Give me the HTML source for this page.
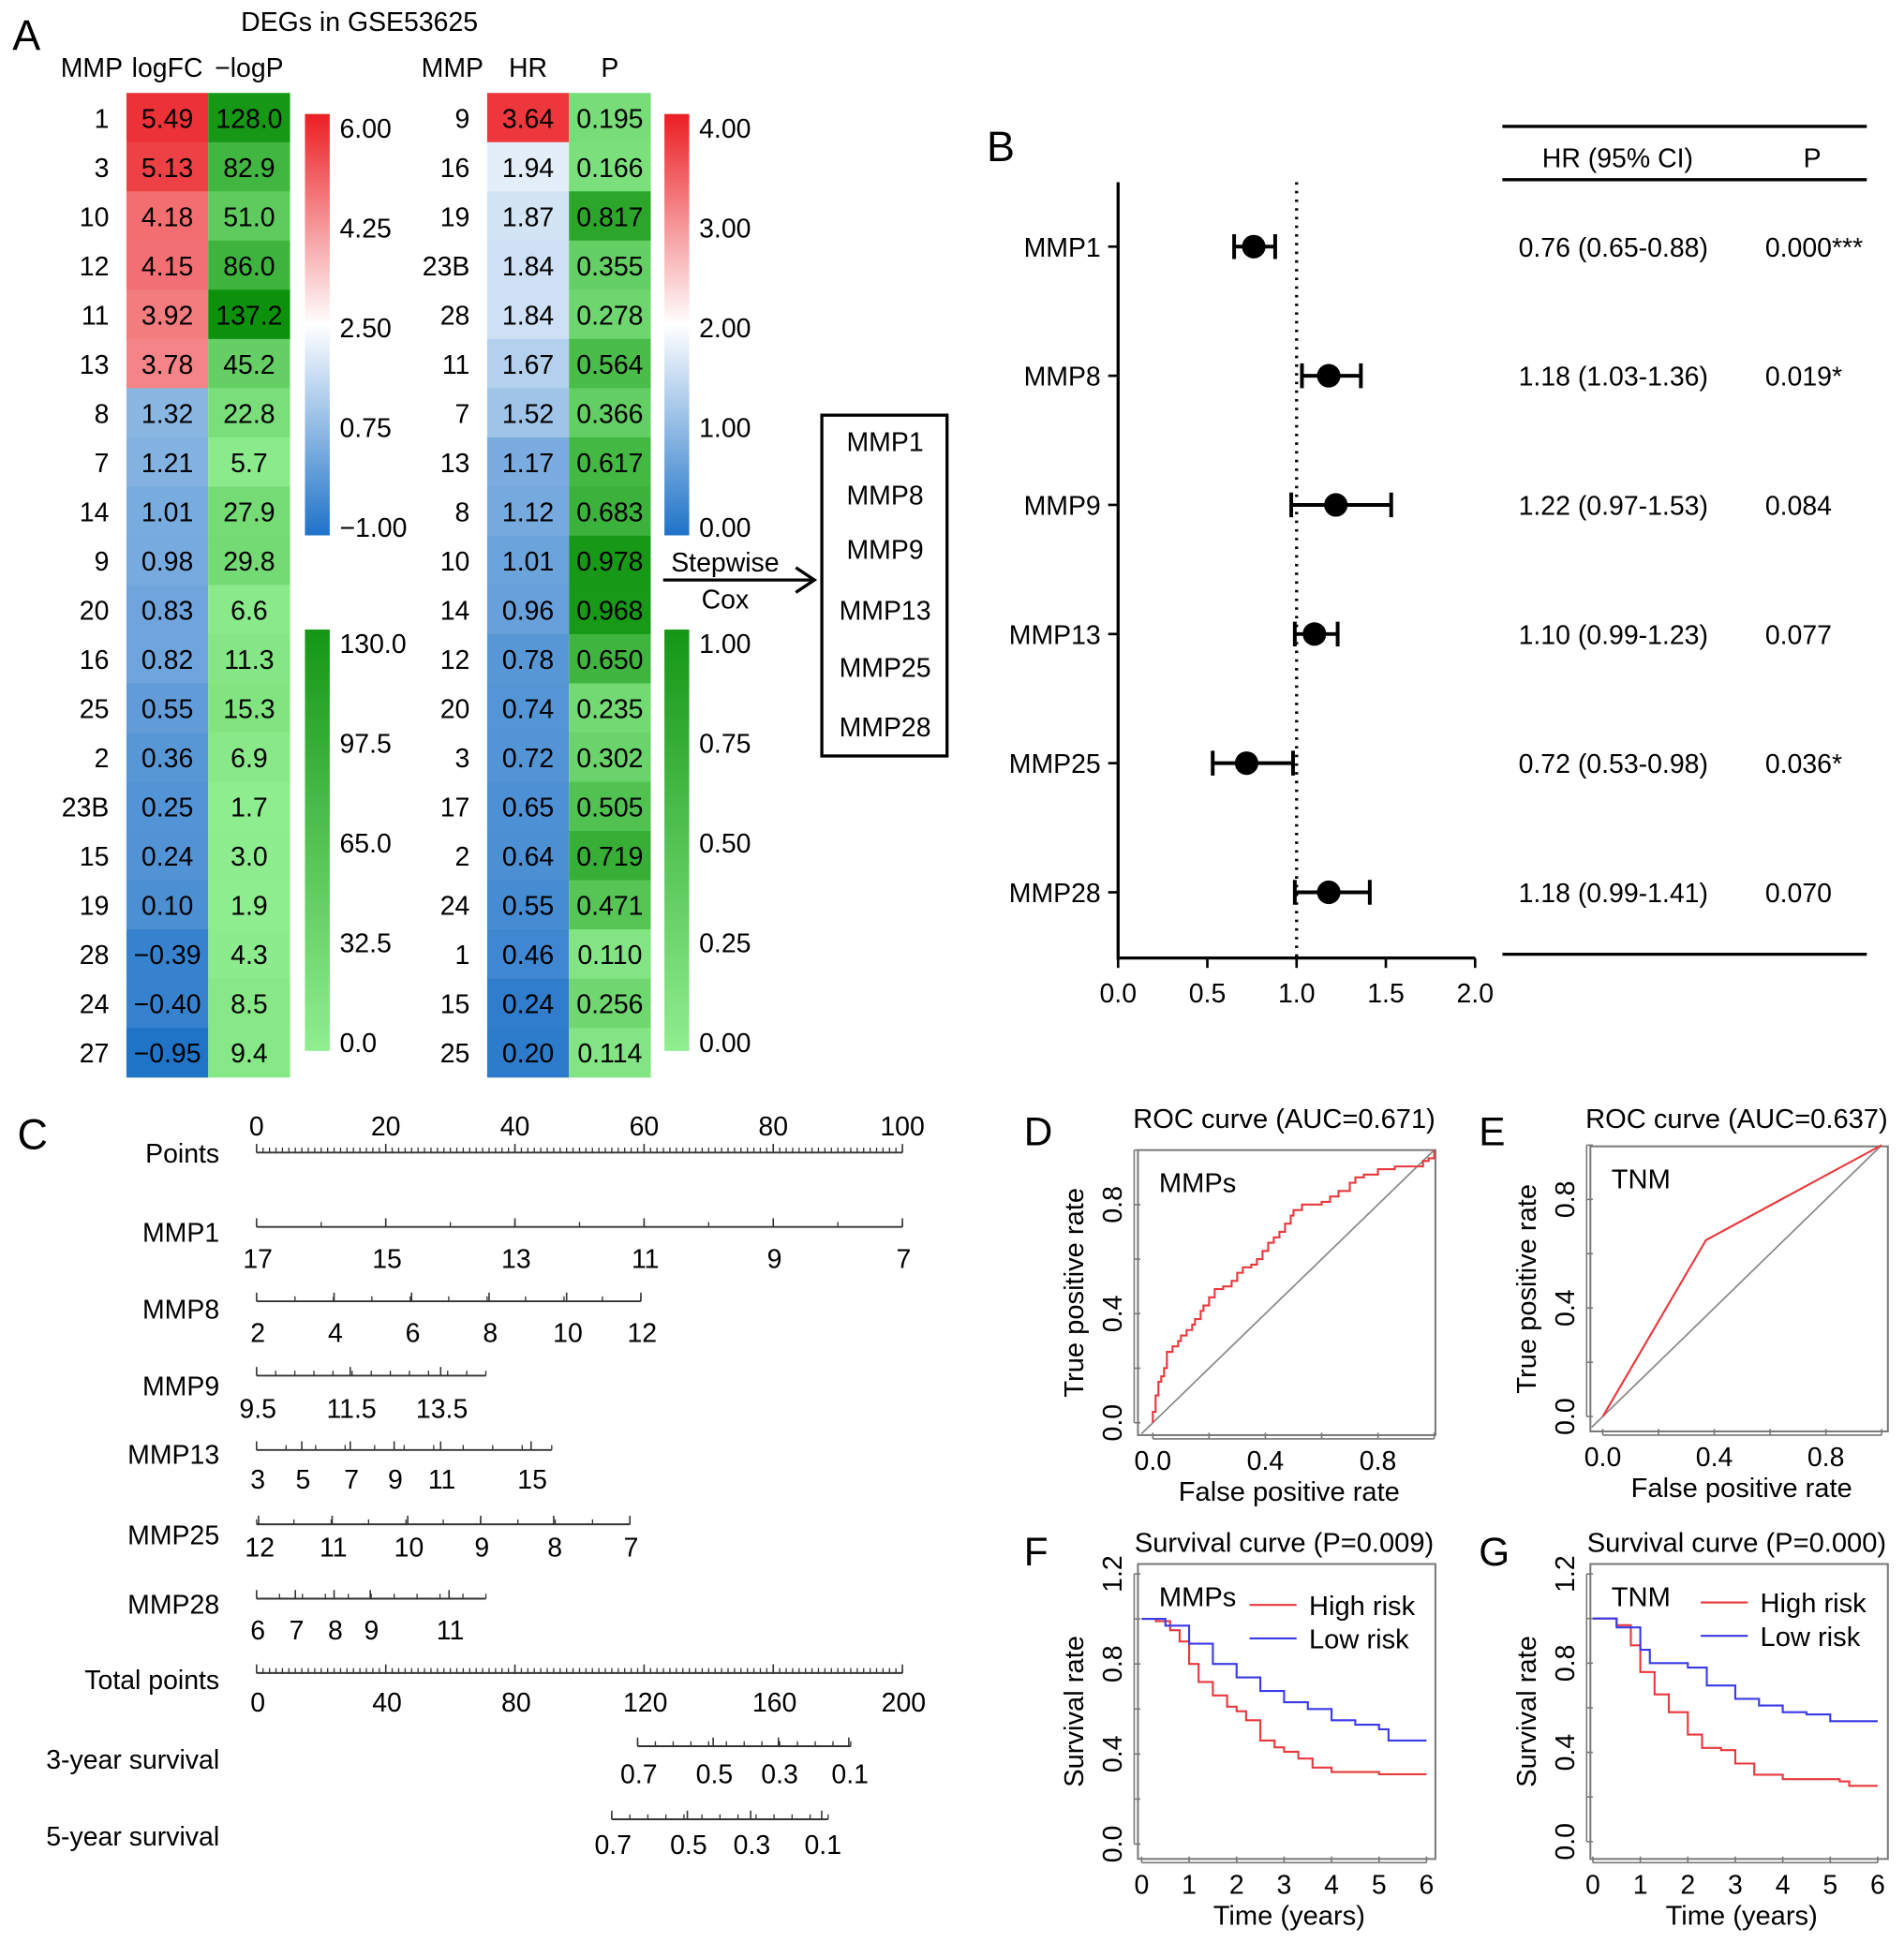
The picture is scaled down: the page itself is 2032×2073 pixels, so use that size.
<!DOCTYPE html>
<html><head><meta charset="utf-8">
<style>
html,body{margin:0;padding:0;background:#fff;}
svg{display:block;font-family:"Liberation Sans",Arial,sans-serif;}
</style></head>
<body>
<svg id="fig" xmlns="http://www.w3.org/2000/svg" width="2032" height="2073" viewBox="0 0 1536 1567">
<rect width="1536" height="1567" fill="#fff"/>
<g id="gA"></g>
<g id="gB"></g>
<g id="gC"></g>
<g id="gD"></g>
</svg>
<script>
// ---- Panel A data ----
const degMMP = ["1","3","10","12","11","13","8","7","14","9","20","16","25","2","23B","15","19","28","24","27"];
const degLogFC = [5.49,5.13,4.18,4.15,3.92,3.78,1.32,1.21,1.01,0.98,0.83,0.82,0.55,0.36,0.25,0.24,0.10,-0.39,-0.40,-0.95];
const degLogP = [128.0,82.9,51.0,86.0,137.2,45.2,22.8,5.7,27.9,29.8,6.6,11.3,15.3,6.9,1.7,3.0,1.9,4.3,8.5,9.4];
const coxMMP = ["9","16","19","23B","28","11","7","13","8","10","14","12","20","3","17","2","24","1","15","25"];
const coxHR = [3.64,1.94,1.87,1.84,1.84,1.67,1.52,1.17,1.12,1.01,0.96,0.78,0.74,0.72,0.65,0.64,0.55,0.46,0.24,0.20];
const coxP = [0.195,0.166,0.817,0.355,0.278,0.564,0.366,0.617,0.683,0.978,0.968,0.650,0.235,0.302,0.505,0.719,0.471,0.110,0.256,0.114];
const fcTicks = ["6.00","4.25","2.50","0.75","\u22121.00"];
const lpTicks = ["130.0","97.5","65.0","32.5","0.0"];
const hrTicks = ["4.00","3.00","2.00","1.00","0.00"];
const pTicks = ["1.00","0.75","0.50","0.25","0.00"];
const coxSelected = ["MMP1","MMP8","MMP9","MMP13","MMP25","MMP28"];
// ---- Panel B data ----
const forestLabels = ["MMP1","MMP8","MMP9","MMP13","MMP25","MMP28"];
const forestHR = [0.76,1.18,1.22,1.10,0.72,1.18];
const forestLo = [0.65,1.03,0.97,0.99,0.53,0.99];
const forestHi = [0.88,1.36,1.53,1.23,0.98,1.41];
const forestCI = ["0.76 (0.65-0.88)","1.18 (1.03-1.36)","1.22 (0.97-1.53)","1.10 (0.99-1.23)","0.72 (0.53-0.98)","1.18 (0.99-1.41)"];
const forestP = ["0.000***","0.019*","0.084","0.077","0.036*","0.070"];
const forestTicks = [0,0.5,1.0,1.5,2.0];
// ---- Panel C data ----
const nomoRows = ["Points","MMP1","MMP8","MMP9","MMP13","MMP25","MMP28","Total points","3-year survival","5-year survival"];
const nomoLabels = [
 ["0","20","40","60","80","100"],
 ["17","15","13","11","9","7"],
 ["2","4","6","8","10","12"],
 ["9.5","11.5","13.5"],
 ["3","5","7","9","11","15"],
 ["12","11","10","9","8","7"],
 ["6","7","8","9","11"],
 ["0","40","80","120","160","200"],
 ["0.7","0.5","0.3","0.1"],
 ["0.7","0.5","0.3","0.1"]];
const nomoPts = [
 [0,20,40,60,80,100],
 [0,20,40,60,80,100],
 [0,12,24,36,48,59.5],
 [0,14.5,28.5],
 [0,7,14.5,21.3,28.5,42.5],
 [0.3,11.7,23.4,34.7,46,57.8],
 [0,6,12,17.6,29.8],
 [0,20,40,60,80,100],
 [59,70.7,80.8,91.7],
 [55,66.7,76.5,87.5]];
const nomoEnd = [100,100,59.5,35.5,45.7,57.8,35.5,100,92,88.5];
const nomoStart = [0,0,0,0,0,0,0,0,59,55];
// ---- ROC data ----
const rocMmpFPR = [0,0,0.01,0.01,0.02,0.02,0.03,0.04,0.05,0.05,0.07,0.09,0.1,0.12,0.14,0.15,0.17,0.18,0.2,0.22,0.25,0.28,0.3,0.32,0.35,0.37,0.39,0.41,0.43,0.45,0.47,0.49,0.5,0.53,0.56,0.6,0.63,0.66,0.68,0.7,0.72,0.75,0.8,0.86,0.92,0.96,0.98,1];
const rocMmpTPR = [0,0.04,0.07,0.1,0.12,0.15,0.17,0.2,0.23,0.26,0.28,0.3,0.32,0.34,0.36,0.38,0.41,0.43,0.46,0.49,0.5,0.52,0.55,0.57,0.58,0.6,0.63,0.66,0.68,0.7,0.73,0.76,0.78,0.8,0.8,0.81,0.83,0.85,0.85,0.88,0.9,0.91,0.93,0.94,0.94,0.96,0.97,1];
const rocTnmFPR = [0,0.37,1];
const rocTnmTPR = [0,0.65,1];
// ---- Survival data ----
const fHighT = [0,0.3,0.6,0.8,1,1.2,1.5,1.8,2,2.2,2.5,2.8,3,3.3,3.6,4,4.5,5,6];
const fHighS = [1,0.99,0.95,0.9,0.8,0.72,0.66,0.61,0.59,0.55,0.46,0.43,0.41,0.38,0.34,0.32,0.32,0.31,0.31];
const fLowT = [0,0.5,1,1.5,2,2.5,3,3.5,4,4.5,5,5.2,6];
const fLowS = [1,0.97,0.89,0.8,0.74,0.68,0.63,0.6,0.55,0.53,0.51,0.46,0.46];
const gHighT = [0,0.5,0.8,1,1.3,1.6,2,2.3,2.7,3,3.4,4,5.2,5.4,6];
const gHighS = [1,0.97,0.88,0.76,0.66,0.58,0.48,0.42,0.41,0.35,0.3,0.28,0.27,0.25,0.25];
const gLowT = [0,0.5,1,1.2,2,2.4,3,3.5,4,4.5,5,6];
const gLowS = [1,0.96,0.86,0.8,0.78,0.7,0.64,0.61,0.58,0.57,0.54,0.54];

const NS="http://www.w3.org/2000/svg";
function el(parent,tag,attrs,text){const e=document.createElementNS(NS,tag);for(const k in attrs)e.setAttribute(k,attrs[k]);if(text!==undefined)e.textContent=text;parent.appendChild(e);return e;}
function lerp(a,b,t){return [0,1,2].map(i=>Math.round(a[i]+(b[i]-a[i])*t));}
function rgb(c){return "rgb("+c.join(",")+")";}
const BLUE=[30,115,200],WHITE=[255,255,255],RED=[235,30,35],LG=[144,238,144],DG=[20,150,20];
function divColor(v,lo,mid,hi){if(v>=mid){let t=Math.min(1,(v-mid)/(hi-mid));return rgb(lerp(WHITE,RED,Math.pow(t,0.6)));}let t=Math.min(1,(mid-v)/(mid-lo));return rgb(lerp(WHITE,BLUE,Math.pow(t,0.6)));}
function grnColor(v,hi){let t=Math.min(1.08,v/hi);return rgb(lerp(LG,DG,t));}

const FS=21.5;
// ===== Panel A =====
const A=document.getElementById('gA');
let t=el(A,'text',{x:10,y:40,'font-size':34});t.textContent="A";

t=el(A,'text',{x:290,y:25,'font-size':FS,'text-anchor':'middle'},"DEGs in GSE53625");

const rowY0=75,rowH=39.7;
function heat(x0,names,vals1,vals2,c1,c2,fmt1,fmt2,h1,h2,nm){
  const g=el(A,'g',{});
  
  el(g,'text',{x:x0-28,y:62,'font-size':FS,'text-anchor':'middle'},"MMP");
  el(g,'text',{x:x0+33,y:62,'font-size':FS,'text-anchor':'middle'},h1);
  el(g,'text',{x:x0+99,y:62,'font-size':FS,'text-anchor':'middle'},h2);
  names.forEach((n,i)=>{
    const y=rowY0+i*rowH;
    const lab=el(g,'text',{x:x0-14,y:y+28,'font-size':FS,'text-anchor':'end'},n);
    
    const r1=el(g,'rect',{x:x0,y:y,width:66,height:rowH+0.5,fill:c1(vals1[i])});
    
    const r2=el(g,'rect',{x:x0+66,y:y,width:66,height:rowH+0.5,fill:c2(vals2[i])});
    
    el(g,'text',{x:x0+33,y:y+28,'font-size':FS,'text-anchor':'middle'},fmt1(vals1[i]));
    el(g,'text',{x:x0+99,y:y+28,'font-size':FS,'text-anchor':'middle'},fmt2(vals2[i]));
  });
}
heat(102,degMMP,degLogFC,degLogP,v=>divColor(v,-1,2.5,6),v=>grnColor(v,130),v=>(v<0?"\u2212"+(-v).toFixed(2):v.toFixed(2)),v=>v.toFixed(1),"logFC","\u2212logP","deg-heatmap");
heat(393,coxMMP,coxHR,coxP,v=>divColor(v,0,2,4),v=>grnColor(v,1),v=>v.toFixed(2),v=>v.toFixed(3),"HR","P","cox-heatmap");
let gid=0;
function colorbar(x,y0,y1,stops,ticks,nm){
  const id='cb'+(gid++);
  const d=el(A,'defs',{});const lg=el(d,'linearGradient',{id:id,x1:0,y1:0,x2:0,y2:1});
  stops.forEach((c,i)=>el(lg,'stop',{offset:i/(stops.length-1),'stop-color':c}));
  const r=el(A,'rect',{x:x,y:y0,width:20,height:y1-y0,fill:'url(#'+id+')'});
  
  ticks.forEach((s,i)=>{el(A,'text',{x:x+28,y:y0+19+i*(y1-y0-18)/(ticks.length-1),'font-size':FS},s);});
}
colorbar(246,92,432,[rgb(RED),rgb(WHITE),rgb(BLUE)],fcTicks,'logfc-colorbar');
colorbar(246,508,848,[rgb(DG),rgb(LG)],lpTicks,'logp-colorbar');
colorbar(536,92,432,[rgb(RED),rgb(WHITE),rgb(BLUE)],hrTicks,'hr-colorbar');
colorbar(536,508,848,[rgb(DG),rgb(LG)],pTicks,'p-colorbar');
el(A,'text',{x:585,y:461,'font-size':FS,'text-anchor':'middle'},"Stepwise");
el(A,'text',{x:585,y:491,'font-size':FS,'text-anchor':'middle'},"Cox");
const arr=el(A,'path',{d:'M535 468 L656 468 M642 458 L657 468 L642 478',stroke:'#000','stroke-width':2.5,fill:'none'});

const bx=el(A,'rect',{x:663,y:335,width:101,height:275,fill:'none',stroke:'#000','stroke-width':2.5});

const selY=[364,407,451,500,546,594];
coxSelected.forEach((s,i)=>el(A,'text',{x:714,y:selY[i],'font-size':FS,'text-anchor':'middle'},s));

// ===== Panel B =====
const B=document.getElementById('gB');
el(B,'text',{x:796,y:130,'font-size':34},"B");
const fx0=902,fsc=144,frow0=199,frowH=104.2;
const fx=v=>fx0+v*fsc;
el(B,'path',{d:'M902 147 L902 773 L1190 773',stroke:'#000','stroke-width':2.5,fill:'none'});
forestTicks.forEach(v=>{el(B,'line',{x1:fx(v),x2:fx(v),y1:773,y2:781,stroke:'#000','stroke-width':2});
  el(B,'text',{x:fx(v),y:809,'font-size':FS,'text-anchor':'middle'},v.toFixed(1));});
el(B,'line',{x1:fx(1),x2:fx(1),y1:147,y2:773,stroke:'#000','stroke-width':2.5,'stroke-dasharray':'2,5'});
forestLabels.forEach((n,i)=>{
  const y=frow0+i*frowH;
  el(B,'line',{x1:894,x2:902,y1:y,y2:y,stroke:'#000','stroke-width':2});
  el(B,'text',{x:888,y:y+8,'font-size':FS,'text-anchor':'end'},n);
  const ci=el(B,'path',{d:`M${fx(forestLo[i])} ${y} L${fx(forestHi[i])} ${y} M${fx(forestLo[i])} ${y-10} L${fx(forestLo[i])} ${y+10} M${fx(forestHi[i])} ${y-10} L${fx(forestHi[i])} ${y+10}`,stroke:'#000','stroke-width':3,fill:'none'});
  
  const pt=el(B,'circle',{cx:fx(forestHR[i]),cy:y,r:9.5,fill:'#000'});
  
  el(B,'text',{x:1225,y:y+8,'font-size':FS},forestCI[i]);
  el(B,'text',{x:1424,y:y+8,'font-size':FS},forestP[i]);
});
el(B,'line',{x1:1212,x2:1506,y1:102,y2:102,stroke:'#000','stroke-width':2.5});
el(B,'line',{x1:1212,x2:1506,y1:145,y2:145,stroke:'#000','stroke-width':2.5});
el(B,'line',{x1:1212,x2:1506,y1:770,y2:770,stroke:'#000','stroke-width':2.5});
el(B,'text',{x:1305,y:135,'font-size':FS,'text-anchor':'middle'},"HR (95% CI)");
el(B,'text',{x:1462,y:135,'font-size':FS,'text-anchor':'middle'},"P");

// ===== Panel C =====
const C=document.getElementById('gC');
el(C,'text',{x:14,y:927,'font-size':34},"C");
const nx=v=>207+v*5.21;
const lineY=[930,990,1050,1110,1170,1230,1290,1350,1409,1468];
const labY=[916,1023,1083,1144,1201,1256,1323,1381,1439,1496];
const nameY=[938,1002,1064,1126,1181,1246,1302,1363,1427,1489];
nomoRows.forEach((n,i)=>{
  const g=el(C,'g',{});
  
  el(g,'text',{x:177,y:nameY[i],'font-size':FS,'text-anchor':'end'},n);
  const y=lineY[i];
  el(g,'line',{x1:nx(nomoStart[i]),x2:nx(nomoEnd[i]),y1:y,y2:y,stroke:'#333','stroke-width':1.5});
  const minor=(i==0||i==7)?1:((nomoEnd[i]-nomoStart[i])/ (nomoLabels[i].length>4?10:12));
  for(let v=nomoStart[i];v<=nomoEnd[i]+0.01;v+=minor){el(g,'line',{x1:nx(v),x2:nx(v),y1:y,y2:y-4,stroke:'#333','stroke-width':1});}
  nomoPts[i].forEach((p,j)=>{
    el(g,'line',{x1:nx(p),x2:nx(p),y1:y,y2:y-7,stroke:'#333','stroke-width':1.2});
    el(g,'text',{x:nx(p)+(i==0?0:1),y:labY[i],'font-size':FS,'text-anchor':'middle'},nomoLabels[i][j]);
  });
});

// ===== Panels D-G =====
const D=document.getElementById('gD');
function panel(letter,lx,ly,title,box,x0,xs,y0,ys,xt,xtl,yt,ytl,xlab,ylab,tag,nm,tOff){
  const g=el(D,'g',{});
  
  el(g,'text',{x:lx,y:ly,'font-size':32},letter);
  el(g,'text',{x:(box[0]+box[2])/2-2,y:box[1]-tOff,'font-size':22,'text-anchor':'middle'},title);
  el(g,'rect',{x:box[0],y:box[1],width:box[2]-box[0],height:box[3]-box[1],fill:'none',stroke:'#777','stroke-width':1.5});
  const X=v=>x0+v*xs,Y=v=>y0-v*ys;
  el(g,'line',{x1:X(xt[0]),x2:X(xt[xt.length-1]),y1:box[3]+3,y2:box[3]+3,stroke:'#777','stroke-width':1.2});
  xt.forEach((v,i)=>{el(g,'line',{x1:X(v),x2:X(v),y1:box[3]+3,y2:box[3]-2,stroke:'#777','stroke-width':1.2});
    if(xtl[i])el(g,'text',{x:X(v),y:box[3]+28,'font-size':FS,'text-anchor':'middle'},xtl[i]);});
  el(g,'line',{x1:box[0]-3,x2:box[0]-3,y1:Y(yt[0]),y2:Y(yt[yt.length-1]),stroke:'#777','stroke-width':1.2});
  yt.forEach((v,i)=>{el(g,'line',{x1:box[0]-3,x2:box[0]+2,y1:Y(v),y2:Y(v),stroke:'#777','stroke-width':1.2});
    if(ytl[i])el(g,'text',{x:box[0]-13,y:Y(v),'font-size':FS,'text-anchor':'middle',transform:`rotate(-90 ${box[0]-13} ${Y(v)})`},ytl[i]);});
  el(g,'text',{x:(box[0]+box[2])/2+2,y:box[3]+53,'font-size':22,'text-anchor':'middle'},xlab);
  const yc=(box[1]+box[3])/2;
  el(g,'text',{x:box[0]-44,y:yc,'font-size':22,'text-anchor':'middle',transform:`rotate(-90 ${box[0]-44} ${yc})`},ylab);
  el(g,'text',{x:box[0]+17,y:box[1]+34,'font-size':22},tag);
  return {g,X,Y};
}
function poly(g,X,Y,xs,ys,color,step,nm){
  let d='';
  xs.forEach((x,i)=>{ if(i==0){d+=`M${X(x)} ${Y(ys[i])}`;} else if(step){d+=` L${X(x)} ${Y(ys[i-1])} L${X(x)} ${Y(ys[i])}`;} else d+=` L${X(x)} ${Y(ys[i])}`;});
  const p=el(g,'path',{d:d,stroke:color,'stroke-width':1.6,fill:'none'});
  
}
const rocXt=[0,0.2,0.4,0.6,0.8,1.0],rocXl=["0.0","","0.4","","0.8",""];
const rocYl=["0.0","","0.4","","0.8",""];
let P=panel("D",826,924,"ROC curve (AUC=0.671)",[918,928,1158,1158],930,227,1148,220,rocXt,rocXl,rocXt,rocYl,"False positive rate","True positive rate","MMPs","roc-mmps",18);
el(P.g,'line',{x1:P.X(-0.04),y1:P.Y(-0.04),x2:P.X(1.0),y2:P.Y(1.0),stroke:'#888','stroke-width':1.3});
poly(P.g,P.X,P.Y,rocMmpFPR,rocMmpTPR,'#e8383c',true,'roc-curve-mmps');
P=panel("E",1193,924,"ROC curve (AUC=0.637)",[1283,925,1523,1155],1293,225,1143,219,rocXt,rocXl,rocXt,rocYl,"False positive rate","True positive rate","TNM","roc-tnm",15);
el(P.g,'line',{x1:P.X(-0.04),y1:P.Y(-0.04),x2:P.X(1.0),y2:P.Y(1.0),stroke:'#888','stroke-width':1.3});
poly(P.g,P.X,P.Y,rocTnmFPR,rocTnmTPR,'#e8383c',false,'roc-curve-tnm');
const sXt=[0,1,2,3,4,5,6],sXl=["0","1","2","3","4","5","6"];
const sYt=[0,0.2,0.4,0.6,0.8,1.0,1.2],sYl=["0.0","","0.4","","0.8","","1.2"];
function legend(g,x,y){
  el(g,'line',{x1:x,x2:x+38,y1:y,y2:y,stroke:'#e8383c','stroke-width':1.6});
  el(g,'text',{x:x+48,y:y+8,'font-size':22},"High risk");
  el(g,'line',{x1:x,x2:x+38,y1:y+27,y2:y+27,stroke:'#3a3ae8','stroke-width':1.6});
  el(g,'text',{x:x+48,y:y+35,'font-size':22},"Low risk");
}
P=panel("F",826,1263,"Survival curve (P=0.009)",[918,1262,1158,1500],921,38.3,1488,181.7,sXt,sXl,sYt,sYl,"Time (years)","Survival rate","MMPs","survival-mmps",10);
poly(P.g,P.X,P.Y,fHighT,fHighS,'#e8383c',true,'survival-high-mmps');
poly(P.g,P.X,P.Y,fLowT,fLowS,'#3a3ae8',true,'survival-low-mmps');
legend(P.g,1008,1295);
P=panel("G",1193,1263,"Survival curve (P=0.000)",[1283,1262,1523,1500],1285,38.3,1486,180,sXt,sXl,sYt,sYl,"Time (years)","Survival rate","TNM","survival-tnm",10);
poly(P.g,P.X,P.Y,gHighT,gHighS,'#e8383c',true,'survival-high-tnm');
poly(P.g,P.X,P.Y,gLowT,gLowS,'#3a3ae8',true,'survival-low-tnm');
legend(P.g,1372,1293);
</script>
</body></html>
